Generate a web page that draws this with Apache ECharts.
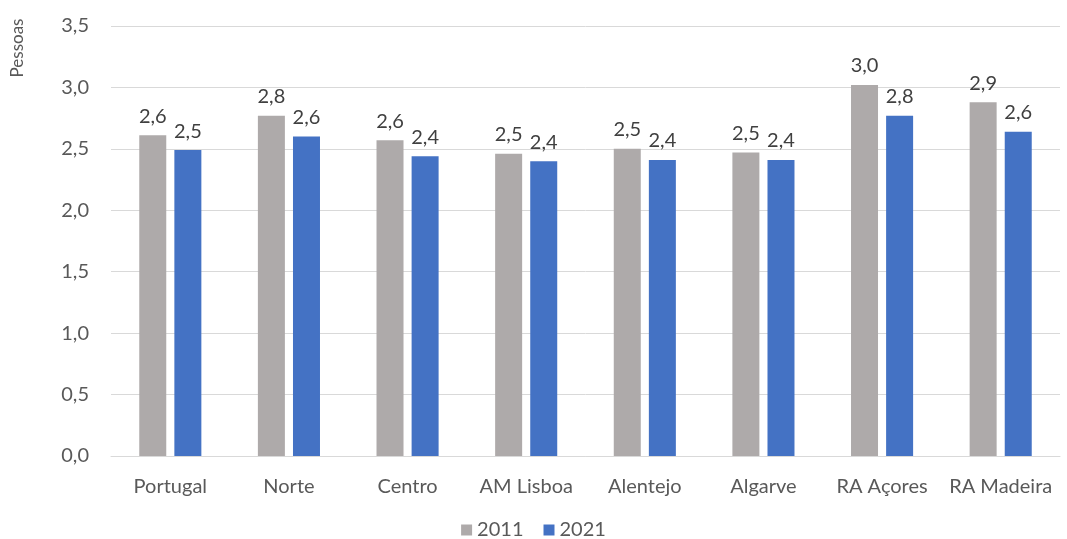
<!DOCTYPE html>
<html>
<head>
<meta charset="utf-8">
<script src="https://cdn.jsdelivr.net/npm/echarts@6/dist/echarts.min.js"></script>
<style>
html,body{margin:0;padding:0;background:#fff;}
#chart{width:1067px;height:539px;}
</style>
</head>
<body>
<div id="chart"></div>
<script>
var categories = ['Portugal', 'Norte', 'Centro', 'AM Lisboa', 'Alentejo', 'Algarve', 'RA Açores', 'RA Madeira'];
var values2011 = [2.61, 2.77, 2.57, 2.46, 2.50, 2.47, 3.02, 2.88];
var values2021 = [2.49, 2.60, 2.44, 2.40, 2.41, 2.41, 2.77, 2.64];
var seriesNames = ['2011', '2021'];
var yTicks = [0, 0.5, 1.0, 1.5, 2.0, 2.5, 3.0, 3.5];

var FONT = 'Lato';
function fmt(v){ return v.toFixed(1).replace('.', ','); }

var chart = echarts.init(document.getElementById('chart'));
var labelStyle = {
  show: true, position: 'top', distance: 9,
  color: '#404040', fontSize: 20, fontFamily: FONT,
  formatter: function(p){ return fmt(p.value); }
};
chart.setOption({
  animation: false,
  textStyle: {fontFamily: FONT},
  grid: {left: 111, right: 7, top: 26, bottom: 83},
  legend: {
    data: seriesNames, top: 520, left: 'center', padding: 0,
    itemWidth: 11, itemHeight: 11, itemGap: 20,
    icon: 'rect',
    textStyle: {color: '#595959', fontSize: 20, fontFamily: FONT}
  },
  graphic: [{
    type: 'text', x: 18, y: 48, rotation: Math.PI/2,
    style: {text: 'Pessoas', fill: '#595959', fontSize: 17, fontFamily: FONT,
            align: 'center', verticalAlign: 'middle'}
  }],
  xAxis: {
    type: 'category', data: categories,
    axisLine: {lineStyle: {color: '#d9d9d9', width: 1}},
    axisTick: {show: false},
    axisLabel: {color: '#595959', fontSize: 20, fontFamily: FONT, margin: 21, interval: 0}
  },
  yAxis: {
    type: 'value', min: yTicks[0], max: yTicks[yTicks.length-1], interval: 0.5,
    axisLine: {show: false}, axisTick: {show: false},
    splitLine: {lineStyle: {color: '#d9d9d9', width: 1}},
    axisLabel: {color: '#595959', fontSize: 20, fontFamily: FONT, margin: 22,
      formatter: function(v){ return fmt(v); }}
  },
  series: [
    {name: seriesNames[0], type: 'bar', data: values2011, barWidth: 27, barGap: '30%',
     itemStyle: {color: '#AEAAAA'}, label: labelStyle},
    {name: seriesNames[1], type: 'bar', data: values2021, barWidth: 27,
     itemStyle: {color: '#4472C4'}, label: labelStyle}
  ]
});
</script>
</body>
</html>
